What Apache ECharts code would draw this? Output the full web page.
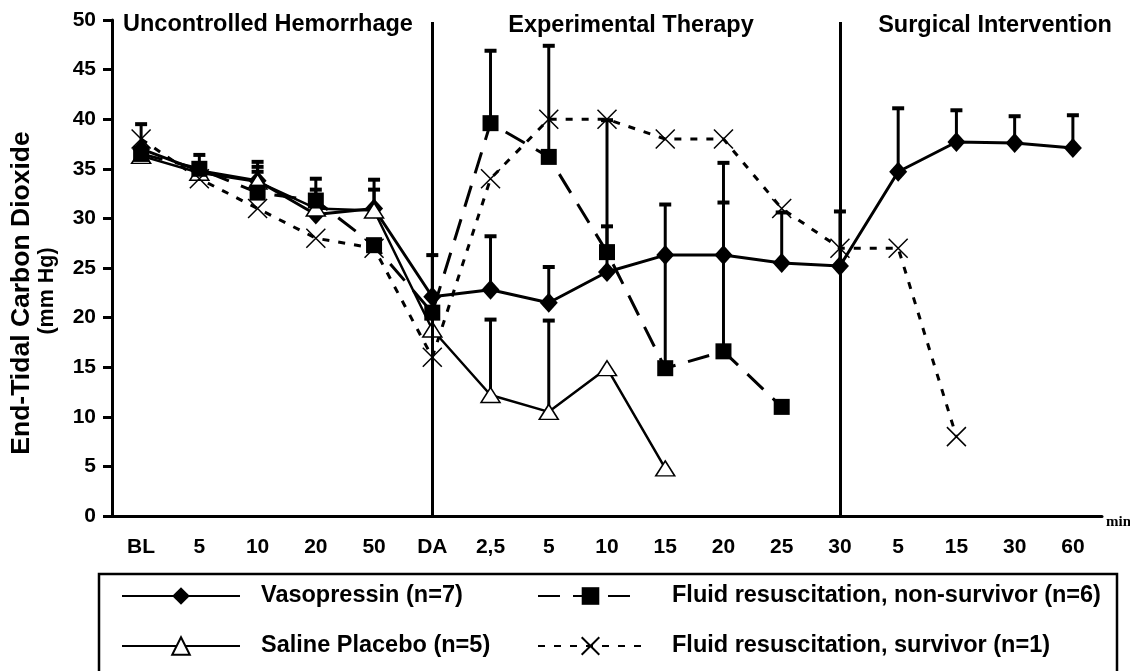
<!DOCTYPE html>
<html>
<head>
<meta charset="utf-8">
<script src="https://cdn.jsdelivr.net/npm/echarts@6/dist/echarts.min.js"></script>
<style>
  html, body { margin: 0; background: #fff; }
  #chart { width: 1130px; height: 671px; }
</style>
</head>
<body>
<div id="chart"></div>
<script>
// time points (min): baseline, hemorrhage, drug admin, therapy, surgery
const categories = ["BL", "5", "10", "20", "50", "DA", "2,5", "5", "10", "15", "20", "25", "30", "5", "15", "30", "60"];
const yTicks = [0, 5, 10, 15, 20, 25, 30, 35, 40, 45, 50];
const phases = ["Uncontrolled Hemorrhage", "Experimental Therapy", "Surgical Intervention"];
const phaseBreaks = [5, 12];

const vasopressin = [37, 34.8, 33.8, 30.4, 31, 22.1, 22.8, 21.5, 24.6, 26.3, 26.3, 25.5, 25.2, 34.7, 37.7, 37.6, 37.1];
const vasopressinSd = [39.5, 36.4, 35.7, 34.0, 33.9, 26.3, 28.2, 25.1, 29.2, 31.4, 31.6, 30.6, 30.7, 41.1, 40.9, 40.3, 40.4];

const saline = [36.3, 34.6, 33.7, 31, 30.8, 18.8, 12.2, 10.5, 14.9, 4.8, null, null, null, null, null, null, null];
const salineSd = [null, null, 35.2, 32.9, 32.9, null, 19.8, 19.7, null, null, null, null, null, null, null, null, null];

const nonSurvivor = [36.5, 35, 32.6, 31.8, 27.3, 20.5, 39.6, 36.2, 26.6, 14.9, 16.6, 11.0, null, null, null, null, null];
const nonSurvivorSd = [null, null, 34.7, null, null, null, 46.9, 47.4, 39.9, 26.3, 35.6, null, null, null, null, null, null];

const survivor = [38, 34, 31, 28, 27, 16, 34, 40, 40, 38, 38, 31, 27, 27, 8, null, null];

const FONT = "Liberation Sans, Arial, sans-serif";
const chart = echarts.init(document.getElementById("chart"));

function errorBars(vals, sds) {
  const data = [];
  sds.forEach((sd, i) => {
    if (sd != null && vals[i] != null) data.push([i, vals[i], sd]);
  });
  return {
    type: "custom",
    silent: true,
    z: 1,
    data: data,
    encode: { x: 0, y: [1, 2] },
    renderItem(params, api) {
      const lo = api.coord([api.value(0), api.value(1)]);
      const hi = api.coord([api.value(0), api.value(2)]);
      return {
        type: "group",
        children: [
          { type: "line", shape: { x1: lo[0], y1: lo[1], x2: hi[0], y2: hi[1] }, style: { stroke: "#000", lineWidth: 3 } },
          { type: "line", shape: { x1: hi[0] - 6, y1: hi[1], x2: hi[0] + 6, y2: hi[1] }, style: { stroke: "#000", lineWidth: 4 } },
        ],
      };
    },
  };
}

function line(name, data, symbol, size, itemStyle, lineStyle) {
  return {
    name: name,
    type: "line",
    z: 3,
    data: data,
    symbol: symbol,
    symbolSize: size,
    showAllSymbol: true,
    connectNulls: false,
    itemStyle: Object.assign({ opacity: 1 }, itemStyle),
    lineStyle: Object.assign({ color: "#000" }, lineStyle),
    emphasis: { disabled: true },
  };
}

function legendText(gap) {
  return { fontFamily: FONT, fontWeight: "bold", fontSize: 23.5, color: "#000", padding: [0, 0, 0, gap] };
}

chart.setOption({
  animation: false,
  backgroundColor: "#fff",
  grid: { left: 112, right: 28, top: 20, bottom: 155 },
  xAxis: {
    type: "category",
    data: categories,
    boundaryGap: true,
    axisLine: { lineStyle: { color: "#000", width: 3 } },
    axisTick: { length: 8, lineStyle: { color: "#000", width: 3 } },
    axisLabel: { interval: 0, margin: 21, color: "#000", fontFamily: FONT, fontWeight: "bold", fontSize: 21 },
    splitLine: { show: false },
  },
  yAxis: {
    type: "value",
    min: 0,
    max: 50,
    interval: 5,
    axisLine: { show: true, lineStyle: { color: "#000", width: 3 } },
    axisTick: { show: true, length: 9, lineStyle: { color: "#000", width: 3 } },
    axisLabel: {
      margin: 16,
      color: "#000",
      fontFamily: FONT,
      fontWeight: "bold",
      fontSize: 21,
      formatter: (v) => (yTicks.includes(v) ? String(v) : ""),
    },
    splitLine: { show: false },
  },
  legend: [
    {
      data: ["Vasopressin (n=7)", "Saline Placebo (n=5)"],
      orient: "vertical",
      left: 116,
      top: 579,
      itemWidth: 118,
      itemHeight: 22,
      itemGap: 26,
      textStyle: legendText(16),
      selectedMode: false,
    },
    {
      data: ["Fluid resuscitation, non-survivor (n=6)", "Fluid resuscitation, survivor (n=1)"],
      orient: "vertical",
      left: 532,
      top: 579,
      itemWidth: 105,
      itemHeight: 22,
      itemGap: 26,
      textStyle: legendText(24),
      selectedMode: false,
    },
  ],
  graphic: [
    { type: "text", left: 123, top: 13, style: { text: phases[0], font: "bold 23.5px " + FONT, fill: "#000" } },
    { type: "text", x: 631, y: 26, style: { text: phases[1], font: "bold 23.5px " + FONT, fill: "#000", align: "center", verticalAlign: "middle" } },
    { type: "text", x: 995, y: 26, style: { text: phases[2], font: "bold 23.5px " + FONT, fill: "#000", align: "center", verticalAlign: "middle" } },
    {
      type: "text",
      x: 22,
      y: 293,
      rotation: Math.PI / 2,
      style: { text: "End-Tidal Carbon Dioxide", font: "bold 26.5px " + FONT, fill: "#000", align: "center", verticalAlign: "middle" },
    },
    {
      type: "text",
      x: 47,
      y: 291,
      rotation: Math.PI / 2,
      style: { text: "(mm Hg)", font: "bold 21.5px " + FONT, fill: "#000", align: "center", verticalAlign: "middle" },
    },
    { type: "text", x: 1106, y: 522, style: { text: "min", font: "bold 15px Liberation Serif, serif", fill: "#000", verticalAlign: "middle" } },
    { type: "rect", shape: { x: 99, y: 574, width: 1018, height: 140 }, style: { fill: "none", stroke: "#000", lineWidth: 2.5 } },
  ],
  series: [
    errorBars(vasopressin, vasopressinSd),
    errorBars(saline, salineSd),
    errorBars(nonSurvivor, nonSurvivorSd),
    Object.assign(
      line("Vasopressin (n=7)", vasopressin, "diamond", [18, 20], { color: "#000" }, { width: 3 }),
      {
        markLine: {
          silent: true,
          symbol: "none",
          label: { show: false },
          lineStyle: { color: "#000", width: 3, type: "solid" },
          data: phaseBreaks.map((i) => [{ coord: [i, 49.8] }, { coord: [i, 0] }]),
        },
      }
    ),
    line("Saline Placebo (n=5)", saline, "triangle", [19, 15], { color: "#fff", borderColor: "#000", borderWidth: 1.5 }, { width: 2.5 }),
    line("Fluid resuscitation, non-survivor (n=6)", nonSurvivor, "rect", [16, 16], { color: "#000" }, { width: 3, type: [22, 13] }),
    line("Fluid resuscitation, survivor (n=1)", survivor, "path://M0,0L20,20M20,0L0,20", [19, 19], { color: "none", borderColor: "#000", borderWidth: 1.5 }, { width: 3, type: [7, 9] }),
  ],
});
</script>
</body>
</html>
